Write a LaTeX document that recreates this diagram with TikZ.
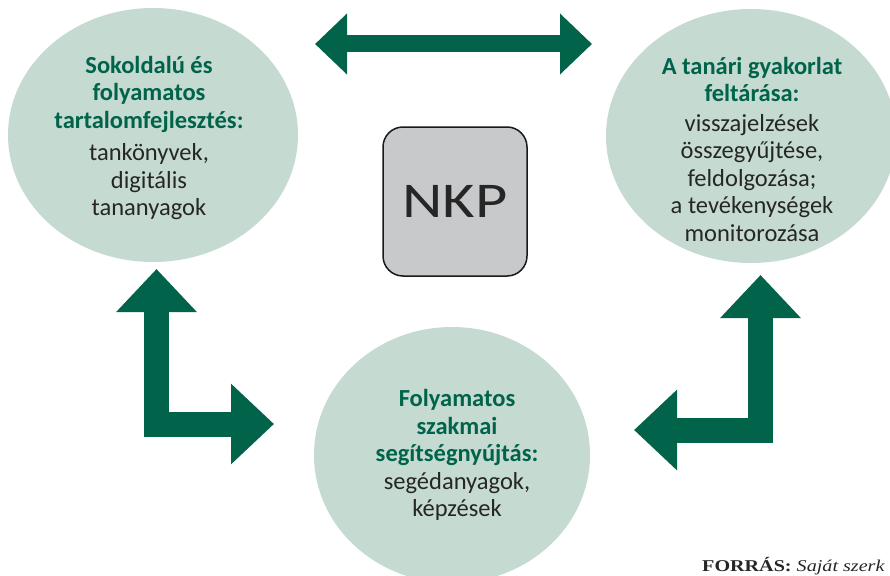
\documentclass[tikz,border=0pt]{standalone}
\usepackage{fontspec}
\setmainfont{Carlito}
\newfontfamily\srcfont{Liberation Serif}
\usetikzlibrary{arrows.meta,shapes.geometric}
\definecolor{dkgreen}{RGB}{0,99,74}
\definecolor{bubblefill}{RGB}{197,218,209}
\definecolor{boxgray}{RGB}{200,201,203}
\definecolor{txt}{RGB}{38,38,38}
\newcommand\ttl[1]{\textcolor{dkgreen}{\textbf{#1}}}
\tikzset{
  BigHead/.tip={Triangle[width=78pt,length=43pt]},
  SmallHead/.tip={Triangle[width=59pt,length=32pt]}}
\begin{document}
\begin{tikzpicture}[x=1pt,y=-1pt,
  bubble/.style={ellipse, fill=bubblefill, draw=none, inner sep=0pt},
  lbl/.style={align=center, font=\fontsize{24.5}{27.5}\selectfont, text=txt, inner sep=0pt},
  blockarrow/.style={draw=dkgreen, line width=25pt, line join=miter, line cap=butt}]
\useasboundingbox (0,0) rectangle (890,575);
\clip (0,0) rectangle (890,575);
% bubbles
\node[bubble, minimum width=290pt, minimum height=254pt] (left) at (153,135) {};
\node[bubble, minimum width=290pt, minimum height=254pt] (right) at (751,136) {};
\node[bubble, minimum width=276pt, minimum height=256pt] (bottom) at (452,455) {};
% texts
\node[lbl] (lefttext) at (149,138) {\ttl{Sokoldalú és}\\\ttl{folyamatos}\\\ttl{tartalomfejlesztés:}\\[5pt]tankönyvek,\\digitális\\tananyagok};
\node[lbl] (righttext) at (752,149) {\ttl{A tanári gyakorlat}\\\ttl{feltárása:}\\[2pt]visszajelzések\\összegyűjtése,\\feldolgozása;\\a tevékenységek\\monitorozása};
\node[lbl] (bottomtext) at (457,455) {\ttl{Folyamatos}\\\ttl{szakmai}\\\ttl{segítségnyújtás:}\\segédanyagok,\\képzések};
% NKP box
\node[draw=black!90, line width=1.5pt, fill=boxgray, rounded corners=20pt,
      minimum width=144pt, minimum height=149pt, inner sep=0pt,
      font=\fontsize{50}{54}\selectfont, text=txt] (nkp) at (455,201.5) {\scalebox{1.25}[1]{NKP}};
% arrow end points
\coordinate (ta) at (315,44);
\coordinate (tb) at (592,44);
\coordinate (la) at (156.5,269);
\coordinate (lb) at (274,424);
\coordinate (ra) at (760.5,275);
\coordinate (rb) at (634,430);
\draw[draw=dkgreen, line width=17pt, line cap=butt, {SmallHead}-{SmallHead}] (ta) -- (tb);
\draw[blockarrow, {BigHead}-{BigHead}] (la) |- (lb);
\draw[blockarrow, {BigHead}-{BigHead}] (ra) |- (rb);
% source
\node[anchor=base west, inner sep=0pt, font=\srcfont\fontsize{16.5}{19}\selectfont, text=txt] (src) at (702,571.5) {\scalebox{1.22}[1]{\textbf{FORRÁS:} \textit{Saját szerk}}};
\end{tikzpicture}
\end{document}
